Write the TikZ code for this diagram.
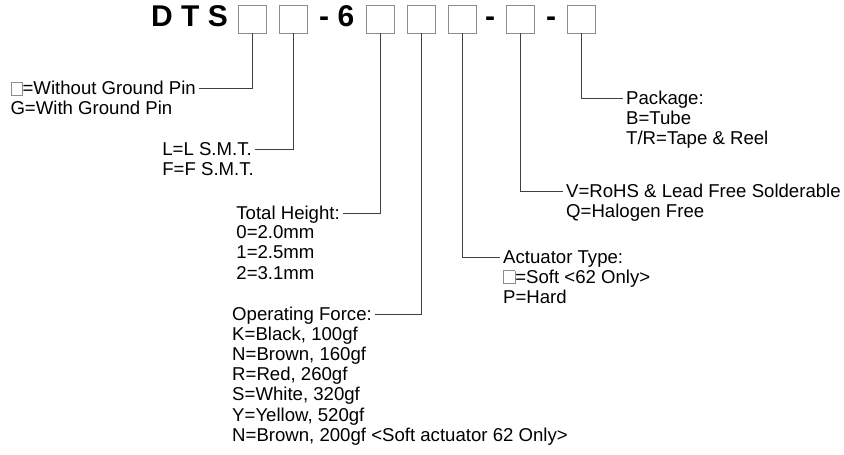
\documentclass[tikz,border=0pt]{standalone}
\usepackage{fontspec}
\setmainfont{Liberation Sans}
\usetikzlibrary{positioning}
\usepackage{xcolor}
\definecolor{boxGray}{HTML}{8C8C8C}
\definecolor{leadGray}{HTML}{404040}
\newcommand{\keybox}{\textcolor{boxGray}{\fboxsep=0pt\fboxrule=0.8pt\fbox{\rule{0pt}{12pt}\rule{10.5pt}{0pt}}}}

\begin{document}
\begin{tikzpicture}[x=1pt,y=-1pt,
  txt/.style={font=\fontsize{18.6}{20.2}\selectfont,inner sep=0pt},
  head/.style={txt,inner xsep=3pt,text height=13pt,text depth=0pt},
  body/.style={txt,inner xsep=3pt,align=left,execute at begin node=\strut},
  slot/.style={draw=boxGray,line width=0.8pt,minimum size=28pt,inner sep=0pt},
  partno/.style={font=\fontsize{30}{30}\selectfont\bfseries,inner sep=0pt},
  lead/.style={leadGray,line width=0.8pt}]
  \useasboundingbox (0,0) rectangle (844,455);
  % part number
  \node[partno,anchor=base east] (dts) at (228,27) {D T S};
  \node[slot] (b1) at (252.5,19) {};
  \node[slot,right=12pt of b1] (b2) {};
  \node[partno,anchor=base west] (six) at (319,27) {- 6};
  \node[slot] (b3) at (380.5,19) {};
  \node[slot,right=12pt of b3] (b4) {};
  \node[slot,right=12pt of b4] (b5) {};
  \node[partno,anchor=base] (dash1) at (490,27) {-};
  \node[slot] (b6) at (520,19) {};
  \node[partno,anchor=base] (dash2) at (551,27) {-};
  \node[slot,right=32.5pt of b6] (b7) {};
  % left legends
  \node[head,anchor=east] (grd) at (199,88) {\keybox=Without Ground Pin};
  \node[body,below right=6.06pt and 0pt of grd.base west] (grdv) {G=With Ground Pin};
  \node[head,anchor=east] (mnt) at (255,149) {L=L S.M.T.};
  \node[body,below right=6.06pt and 0pt of mnt.base west] (mntv) {F=F S.M.T.};
  \node[head,anchor=east] (hgt) at (343,213) {Total Height:};
  \node[body,below right=6.06pt and 0pt of hgt.base west] (hgtv) {0=2.0mm\\1=2.5mm\\2=3.1mm};
  \node[head,anchor=east] (frc) at (375,314) {Operating Force:};
  \node[body,below right=6.06pt and 0pt of frc.base west] (frcv) {K=Black, 100gf\\N=Brown, 160gf\\R=Red, 260gf\\S=White, 320gf\\Y=Yellow, 520gf\\N=Brown, 200gf <Soft actuator 62 Only>};
  % right legends
  \node[head,anchor=west] (act) at (500,257) {Actuator Type:};
  \node[body,below right=6.06pt and 0pt of act.base west] (actv) {\keybox=Soft <62 Only>\\P=Hard};
  \node[head,anchor=west] (rohs) at (563,191) {V=RoHS \& Lead Free Solderable};
  \node[body,below right=6.06pt and 0pt of rohs.base west] (rohsv) {Q=Halogen Free};
  \node[head,anchor=west] (pkg) at (623,98) {Package:};
  \node[body,below right=6.06pt and 0pt of pkg.base west] (pkgv) {B=Tube\\T/R=Tape \& Reel};
  \draw[lead] (b1.south) |- (grd.east);
  \draw[lead] (b2.south) |- (mnt.east);
  \draw[lead] (b3.south) |- (hgt.east);
  \draw[lead] (b4.south) |- (frc.east);
  \draw[lead] (b5.south) |- (act.west);
  \draw[lead] (b6.south) |- (rohs.west);
  \draw[lead] (b7.south) |- (pkg.west);
\end{tikzpicture}
\end{document}
